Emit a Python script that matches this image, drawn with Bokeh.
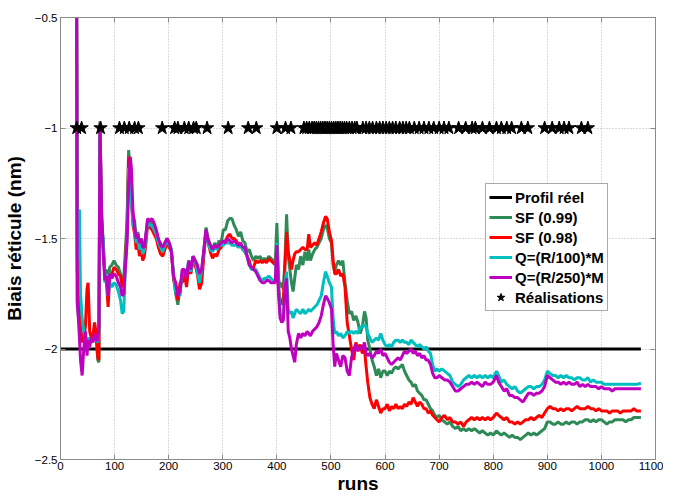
from bokeh.plotting import figure
from bokeh.models import (Range1d, LinearAxis, FixedTicker, Legend, LegendItem,
                          CustomJSTickFormatter, ColumnDataSource)
from bokeh.embed import file_html
from bokeh.resources import INLINE

# ---------------- data ----------------
runs = [
    29, 31, 33, 35, 37, 40, 43, 46, 49, 51,
    54, 57, 60, 63, 66, 69, 71, 73, 76, 79,
    82, 85, 88, 91, 95, 99, 103, 107, 111, 114,
    117, 120, 123, 126, 129, 131, 134, 137, 140, 143,
    146, 149, 152, 155, 158, 161, 165, 169, 173, 177,
    181, 185, 189, 193, 197, 201, 205, 209, 213, 217,
    221, 225, 229, 233, 237, 241, 245, 249, 253, 257,
    261, 265, 269, 273, 277, 281, 285, 289, 293, 297,
    301, 305, 309, 313, 317, 321, 325, 329, 333, 337,
    341, 345, 349, 353, 357, 361, 365, 369, 373, 377,
    381, 385, 389, 393, 397, 400, 403, 406, 409, 412,
    415, 418, 421, 424, 427, 430, 433, 436, 440, 444,
    448, 452, 456, 459, 462, 466, 470, 474, 478, 482,
    486, 490, 493, 497, 501, 504, 507, 510, 514, 518,
    522, 526, 530, 534, 538, 542, 546, 550, 554, 558,
    562, 565, 568, 572, 576, 580, 584, 588, 592, 596,
    600, 604, 608, 612, 616, 620, 624, 628, 632, 636,
    640, 644, 648, 652, 656, 660, 664, 668, 672, 676,
    680, 684, 688, 692, 696, 700, 705, 710, 715, 720,
    725, 730, 735, 740, 745, 750, 755, 760, 765, 770,
    775, 780, 785, 790, 795, 800, 806, 810, 815, 820,
    825, 830, 835, 840, 845, 850, 855, 860, 865, 870,
    875, 880, 885, 890, 895, 900, 905, 910, 915, 920,
    925, 930, 935, 940, 945, 950, 955, 960, 965, 970,
    975, 980, 985, 990, 995, 1000, 1005, 1010, 1015, 1020,
    1025, 1030, 1035, 1040, 1045, 1050, 1055, 1060, 1065, 1073,
]

sf_099 = [
    0.5, -1.80, -1.85, -1.88, -1.92, -1.95, -1.93, -1.97, -1.98, -1.95,
    -1.96, -1.97, -1.95, -1.92, -1.95, -2.05, -2.06, -0.97, -1.40, -1.52,
    -1.66, -1.64, -1.72, -1.63, -1.62, -1.60, -1.62, -1.63, -1.66, -1.70,
    -1.68, -1.55, -1.42, -1.10, -1.20, -1.30, -1.40, -1.42, -1.50, -1.47,
    -1.52, -1.50, -1.55, -1.53, -1.48, -1.42, -1.43, -1.42, -1.45, -1.47,
    -1.51, -1.52, -1.55, -1.52, -1.50, -1.52, -1.55, -1.68, -1.75, -1.80,
    -1.72, -1.66, -1.64, -1.70, -1.62, -1.63, -1.58, -1.60, -1.62, -1.68,
    -1.66, -1.56, -1.45, -1.50, -1.53, -1.55, -1.52, -1.54, -1.51, -1.52,
    -1.46, -1.46, -1.42, -1.41, -1.41, -1.44, -1.46, -1.49, -1.47, -1.51,
    -1.52, -1.56, -1.55, -1.58, -1.60, -1.58, -1.59, -1.58, -1.60, -1.59,
    -1.60, -1.58, -1.59, -1.60, -1.61, -1.43, -1.68, -1.72, -1.70, -1.73,
    -1.60, -1.39, -1.58, -1.64, -1.70, -1.74, -1.68, -1.62, -1.64, -1.58,
    -1.62, -1.56, -1.60, -1.55, -1.60, -1.57, -1.55, -1.54, -1.52, -1.50,
    -1.46, -1.44, -1.45, -1.50, -1.52, -1.62, -1.65, -1.62, -1.60, -1.62,
    -1.60, -1.70, -1.78, -1.84, -1.83, -1.87, -1.85, -1.88, -1.93, -1.90,
    -1.83, -1.86, -1.96, -2.00, -2.05, -2.08, -2.12, -2.09, -2.13, -2.10,
    -2.10, -2.12, -2.10, -2.11, -2.09, -2.08, -2.09, -2.08, -2.07, -2.10,
    -2.12, -2.14, -2.15, -2.17, -2.16, -2.19, -2.20, -2.21, -2.23, -2.23,
    -2.25, -2.27, -2.28, -2.30, -2.31, -2.30, -2.32, -2.33, -2.34, -2.33,
    -2.35, -2.36, -2.35, -2.37, -2.36, -2.37, -2.36, -2.37, -2.36, -2.37,
    -2.38, -2.37, -2.38, -2.39, -2.38, -2.39, -2.37, -2.38, -2.39, -2.38,
    -2.39, -2.40, -2.39, -2.40, -2.40, -2.41, -2.40, -2.39, -2.38, -2.39,
    -2.38, -2.39, -2.38, -2.37, -2.36, -2.33, -2.33, -2.34, -2.34, -2.33,
    -2.34, -2.34, -2.33, -2.34, -2.33, -2.33, -2.34, -2.33, -2.33, -2.32,
    -2.32, -2.33, -2.32, -2.33, -2.32, -2.32, -2.33, -2.34, -2.33, -2.33,
    -2.32, -2.32, -2.32, -2.32, -2.33, -2.32, -2.32, -2.31, -2.31, -2.31,
]

sf_098 = [
    0.5, -1.65, -1.70, -1.80, -1.90, -1.97, -1.95, -1.90, -1.73, -1.70,
    -1.92, -1.95, -1.94, -1.88, -1.93, -2.04, -2.05, -1.00, -1.42, -1.55,
    -1.68, -1.70, -1.81, -1.68, -1.66, -1.63, -1.64, -1.66, -1.67, -1.72,
    -1.70, -1.60, -1.46, -1.13, -1.22, -1.32, -1.44, -1.48, -1.55, -1.52,
    -1.58, -1.54, -1.60, -1.58, -1.52, -1.44, -1.45, -1.46, -1.48, -1.50,
    -1.54, -1.57, -1.58, -1.55, -1.52, -1.54, -1.56, -1.68, -1.72, -1.78,
    -1.70, -1.70, -1.66, -1.72, -1.62, -1.66, -1.60, -1.62, -1.66, -1.73,
    -1.70, -1.58, -1.47, -1.52, -1.56, -1.59, -1.57, -1.58, -1.55, -1.54,
    -1.52, -1.51, -1.49, -1.48, -1.50, -1.50, -1.51, -1.53, -1.53, -1.55,
    -1.56, -1.58, -1.60, -1.64, -1.63, -1.60, -1.61, -1.60, -1.61, -1.60,
    -1.61, -1.59, -1.60, -1.61, -1.62, -1.55, -1.72, -1.78, -1.80, -1.77,
    -1.62, -1.47, -1.56, -1.60, -1.64, -1.60, -1.57, -1.56, -1.56, -1.55,
    -1.54, -1.55, -1.55, -1.48, -1.54, -1.53, -1.52, -1.53, -1.50, -1.47,
    -1.43, -1.40, -1.41, -1.47, -1.51, -1.60, -1.66, -1.66, -1.64, -1.67,
    -1.66, -1.72, -1.88, -1.94, -2.00, -2.05, -1.97, -2.00, -1.98, -2.02,
    -2.00, -2.08, -2.15, -2.22, -2.25, -2.27, -2.23, -2.26, -2.29, -2.27,
    -2.27, -2.25, -2.28, -2.26, -2.27, -2.25, -2.27, -2.26, -2.27, -2.25,
    -2.26, -2.24, -2.25, -2.22, -2.24, -2.26, -2.24, -2.25, -2.27, -2.27,
    -2.29, -2.28, -2.30, -2.31, -2.32, -2.33, -2.31, -2.30, -2.32, -2.31,
    -2.33, -2.33, -2.34, -2.33, -2.35, -2.33, -2.32, -2.31, -2.32, -2.31,
    -2.32, -2.31, -2.32, -2.31, -2.32, -2.31, -2.29, -2.30, -2.31, -2.32,
    -2.31, -2.33, -2.33, -2.34, -2.33, -2.34, -2.33, -2.32, -2.32, -2.31,
    -2.32, -2.31, -2.30, -2.31, -2.29, -2.27, -2.26, -2.27, -2.27, -2.28,
    -2.27, -2.28, -2.27, -2.27, -2.28, -2.27, -2.26, -2.27, -2.27, -2.27,
    -2.26, -2.27, -2.27, -2.28, -2.27, -2.28, -2.28, -2.28, -2.29, -2.28,
    -2.28, -2.28, -2.29, -2.28, -2.28, -2.28, -2.28, -2.27, -2.28, -2.28,
]

q_r100 = [
    0.5, -1.60, -1.38, -1.37, -1.75, -1.86, -1.92, -1.96, -1.97, -1.95,
    -1.97, -1.96, -1.96, -1.94, -1.96, -1.97, -1.92, -1.00, -1.45, -1.50,
    -1.70, -1.66, -1.76, -1.70, -1.72, -1.70, -1.71, -1.74, -1.78, -1.84,
    -1.83, -1.62, -1.50, -1.18, -1.24, -1.33, -1.43, -1.46, -1.52, -1.50,
    -1.55, -1.52, -1.57, -1.55, -1.50, -1.43, -1.44, -1.44, -1.46, -1.48,
    -1.52, -1.54, -1.56, -1.53, -1.51, -1.53, -1.55, -1.66, -1.74, -1.74,
    -1.76, -1.65, -1.65, -1.66, -1.60, -1.65, -1.60, -1.60, -1.65, -1.70,
    -1.64, -1.56, -1.47, -1.52, -1.55, -1.56, -1.54, -1.55, -1.53, -1.53,
    -1.53, -1.52, -1.52, -1.52, -1.53, -1.53, -1.53, -1.54, -1.53, -1.55,
    -1.56, -1.58, -1.62, -1.64, -1.64, -1.64, -1.66, -1.68, -1.69, -1.68,
    -1.68, -1.67, -1.68, -1.69, -1.69, -1.52, -1.70, -1.84, -1.85, -1.86,
    -1.70, -1.65, -1.82, -1.84, -1.83, -1.86, -1.84, -1.82, -1.83, -1.84,
    -1.82, -1.84, -1.83, -1.82, -1.83, -1.82, -1.81, -1.80, -1.78, -1.76,
    -1.70, -1.65, -1.67, -1.70, -1.72, -1.86, -1.93, -1.92, -1.94, -1.93,
    -1.95, -1.94, -1.92, -1.93, -1.92, -1.93, -1.92, -1.93, -1.90, -1.90,
    -1.89, -1.90, -1.93, -1.95, -1.97, -1.96, -1.95, -1.96, -1.93, -1.96,
    -1.98, -1.99, -1.98, -1.99, -1.97, -1.96, -1.96, -1.97, -1.96, -1.97,
    -1.97, -1.98, -1.96, -1.97, -1.98, -1.99, -1.98, -1.99, -2.00, -1.99,
    -2.01, -2.02, -2.07, -2.10, -2.09, -2.10, -2.09, -2.10, -2.11, -2.12,
    -2.15, -2.16, -2.17, -2.16, -2.14, -2.13, -2.12, -2.13, -2.12, -2.13,
    -2.12, -2.13, -2.12, -2.13, -2.12, -2.13, -2.10, -2.12, -2.15, -2.14,
    -2.16, -2.17, -2.18, -2.17, -2.19, -2.20, -2.19, -2.18, -2.17, -2.17,
    -2.18, -2.17, -2.17, -2.16, -2.14, -2.10, -2.11, -2.12, -2.12, -2.13,
    -2.12, -2.13, -2.12, -2.13, -2.13, -2.14, -2.13, -2.13, -2.14, -2.14,
    -2.13, -2.15, -2.14, -2.15, -2.15, -2.15, -2.16, -2.16, -2.16, -2.16,
    -2.16, -2.16, -2.16, -2.16, -2.16, -2.16, -2.16, -2.16, -2.16, -2.155,
]

q_r250 = [
    0.5, -1.78, -1.86, -1.95, -2.05, -2.12, -2.00, -1.92, -2.03, -1.96,
    -1.99, -1.95, -1.97, -1.93, -1.96, -1.96, -1.90, -0.98, -1.38, -1.56,
    -1.69, -1.67, -1.76, -1.66, -1.68, -1.66, -1.67, -1.70, -1.72, -1.76,
    -1.75, -1.63, -1.52, -1.25, -1.13, -1.18, -1.38, -1.45, -1.50, -1.48,
    -1.52, -1.50, -1.54, -1.54, -1.48, -1.41, -1.42, -1.41, -1.43, -1.46,
    -1.50, -1.53, -1.54, -1.52, -1.50, -1.52, -1.56, -1.67, -1.70, -1.76,
    -1.74, -1.64, -1.64, -1.68, -1.60, -1.64, -1.58, -1.60, -1.62, -1.66,
    -1.64, -1.55, -1.46, -1.51, -1.53, -1.55, -1.53, -1.54, -1.53, -1.52,
    -1.51, -1.52, -1.50, -1.51, -1.52, -1.51, -1.52, -1.53, -1.52, -1.54,
    -1.54, -1.58, -1.62, -1.63, -1.64, -1.65, -1.67, -1.69, -1.70, -1.70,
    -1.69, -1.69, -1.70, -1.70, -1.70, -1.53, -1.75, -1.86, -1.88, -1.87,
    -1.72, -1.68, -1.92, -1.95, -2.00, -2.03, -2.06, -1.98, -1.93, -1.95,
    -1.93, -1.94, -1.92, -1.93, -1.94, -1.92, -1.91, -1.90, -1.88, -1.85,
    -1.80, -1.76, -1.77, -1.79, -1.82, -1.98, -2.08, -2.02, -2.05, -2.08,
    -2.03, -2.04, -2.10, -2.12, -2.04, -2.00, -1.98, -2.01, -1.99, -2.00,
    -1.97, -2.02, -2.03, -2.02, -2.04, -2.03, -2.01, -2.02, -2.00, -2.03,
    -2.02, -2.04, -2.06, -2.07, -2.06, -2.05, -2.04, -2.05, -2.03, -2.01,
    -2.02, -2.01, -2.00, -2.02, -2.01, -2.03, -2.02, -2.04, -2.03, -2.05,
    -2.05, -2.07, -2.11, -2.13, -2.13, -2.12, -2.13, -2.14, -2.14, -2.15,
    -2.17, -2.19, -2.19, -2.18, -2.17, -2.16, -2.16, -2.15, -2.16, -2.15,
    -2.16, -2.17, -2.15, -2.16, -2.16, -2.15, -2.12, -2.15, -2.17, -2.19,
    -2.18, -2.21, -2.21, -2.22, -2.22, -2.23, -2.24, -2.22, -2.20, -2.20,
    -2.21, -2.20, -2.20, -2.19, -2.17, -2.12, -2.13, -2.14, -2.15, -2.15,
    -2.16, -2.15, -2.16, -2.15, -2.16, -2.16, -2.15, -2.17, -2.16, -2.17,
    -2.16, -2.17, -2.17, -2.17, -2.18, -2.17, -2.18, -2.18, -2.18, -2.19,
    -2.18, -2.18, -2.18, -2.18, -2.18, -2.18, -2.18, -2.18, -2.18, -2.18,
]

profil_runs = [0, 1073]
profil_values = [-2.0, -2.0]

realisation_runs = [
    30, 39, 74, 109, 118, 127, 137, 144, 188, 211,
    217, 229, 237, 246, 251, 271, 310, 347, 362, 400,
    416, 426, 450, 455, 460, 465, 469, 473, 477, 481,
    485, 489, 493, 497, 501, 505, 509, 513, 517, 521,
    525, 529, 534, 539, 544, 548, 559, 565, 571, 577,
    584, 590, 596, 602, 608, 614, 620, 627, 633, 639,
    645, 654, 663, 672, 681, 690, 700, 709, 718, 736,
    749, 761, 767, 780, 793, 806, 815, 825, 834, 852,
    864, 895, 909, 922, 931, 940, 963, 975,
]
realisation_level = -1.0
realisation_values = [realisation_level for _ in realisation_runs]

x_ticks = [0, 100, 200, 300, 400, 500, 600, 700, 800, 900, 1000, 1100]
y_ticks = [-2.5, -2.0, -1.5, -1.0, -0.5]

# ---------------- styling ----------------
FONT = "Liberation Sans"
FRAME = "#8a8a8a"
GRID = "#b4b4b4"

p = figure(width=663, height=496,
           x_range=Range1d(0, 1100), y_range=Range1d(-2.5, -0.5),
           output_backend="svg", toolbar_location=None,
           min_border_left=58, min_border_top=17, min_border_right=8,
           min_border_bottom=30,
           background_fill_color="white", border_fill_color="white",
           outline_line_color=FRAME)

minus_fmt = CustomJSTickFormatter(code="return String(tick).replace('-', '\u2212');")

for ax in (p.xaxis[0], p.yaxis[0]):
    ax.major_tick_in = 5
    ax.major_tick_out = 0
    ax.minor_tick_line_color = None
    ax.axis_line_color = FRAME
    ax.major_tick_line_color = FRAME
    ax.major_label_text_font = FONT
    ax.major_label_text_font_size = "11.5px"
    ax.major_label_text_color = "black"

p.xaxis[0].ticker = FixedTicker(ticks=x_ticks)
p.xaxis[0].major_label_standoff = 2
p.xaxis[0].axis_label = "runs"
p.xaxis[0].axis_label_text_font = FONT
p.xaxis[0].axis_label_text_font_size = "19px"
p.xaxis[0].axis_label_text_font_style = "bold"
p.xaxis[0].axis_label_text_color = "black"
p.xaxis[0].axis_label_standoff = 0

p.yaxis[0].ticker = FixedTicker(ticks=y_ticks)
p.yaxis[0].formatter = minus_fmt
p.yaxis[0].major_label_standoff = 3
p.yaxis[0].axis_label = "Biais réticule (nm)"
p.yaxis[0].axis_label_text_font = FONT
p.yaxis[0].axis_label_text_font_size = "19px"
p.yaxis[0].axis_label_text_font_style = "bold"
p.yaxis[0].axis_label_text_color = "black"
p.yaxis[0].axis_label_standoff = 7

blank_fmt = CustomJSTickFormatter(code="return '';")
top_axis = LinearAxis(ticker=FixedTicker(ticks=x_ticks), formatter=blank_fmt,
                      major_tick_in=5, major_tick_out=0, minor_tick_line_color=None,
                      axis_line_color=FRAME, major_tick_line_color=FRAME,
                      major_label_standoff=0, major_label_text_font_size="1px")
right_axis = LinearAxis(ticker=FixedTicker(ticks=y_ticks), formatter=blank_fmt,
                        major_tick_in=5, major_tick_out=0, minor_tick_line_color=None,
                        axis_line_color=FRAME, major_tick_line_color=FRAME,
                        major_label_standoff=0, major_label_text_font_size="1px")
p.add_layout(top_axis, "above")
p.add_layout(right_axis, "right")

for g in (p.xgrid[0], p.ygrid[0]):
    g.grid_line_color = GRID
    g.grid_line_dash = "1 2"
    g.grid_line_width = 1
p.xgrid[0].ticker = FixedTicker(ticks=x_ticks)
p.ygrid[0].ticker = FixedTicker(ticks=y_ticks)

src = ColumnDataSource(dict(runs=runs, sf_099=sf_099, sf_098=sf_098,
                            q_r100=q_r100, q_r250=q_r250))

LW = 3
r_prof = p.line(profil_runs, profil_values, line_color="black", line_width=LW)
r_g = p.line("runs", "sf_099", source=src, line_color="#2E8B57", line_width=LW)
r_r = p.line("runs", "sf_098", source=src, line_color="#FF0000", line_width=LW)
r_c = p.line("runs", "q_r100", source=src, line_color="#00BFBF", line_width=LW)
r_m = p.line("runs", "q_r250", source=src, line_color="#BF00BF", line_width=LW)
r_s = p.scatter(realisation_runs, realisation_values, marker="star", size=14,
                fill_color="black", line_color="black")

legend = Legend(items=[
    LegendItem(label="Profil réel", renderers=[r_prof]),
    LegendItem(label="SF (0.99)", renderers=[r_g]),
    LegendItem(label="SF (0.98)", renderers=[r_r]),
    LegendItem(label="Q=(R/100)*M", renderers=[r_c]),
    LegendItem(label="Q=(R/250)*M", renderers=[r_m]),
    LegendItem(label="Réalisations", renderers=[r_s]),
], location=(425, 148))
legend.label_text_font = FONT
legend.label_text_font_style = "bold"
legend.label_text_font_size = "15px"
legend.label_text_color = "black"
legend.border_line_color = "#555555"
legend.border_line_width = 1
legend.background_fill_color = "white"
legend.background_fill_alpha = 1.0
legend.padding = 3
legend.spacing = 0
legend.margin = 0
legend.glyph_width = 23
legend.glyph_height = 20
legend.label_height = 20
legend.label_standoff = 3
p.add_layout(legend)

open("out.html", "w").write(file_html(p, INLINE))
